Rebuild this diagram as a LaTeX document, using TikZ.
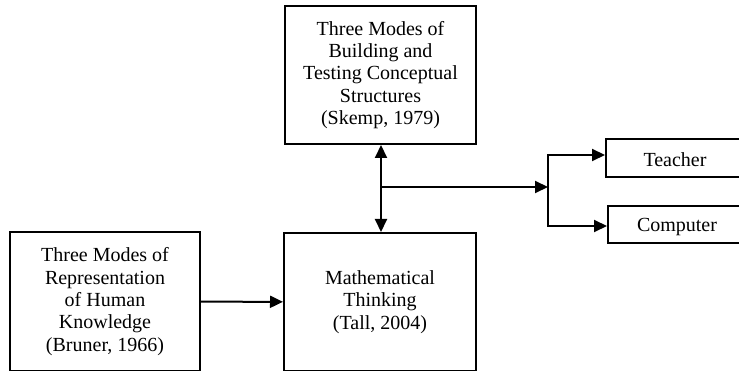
\documentclass[tikz,border=0pt]{standalone}
\usepackage{fontspec}
\setmainfont{Liberation Serif}
\usetikzlibrary{arrows.meta}
\begin{document}
\begin{tikzpicture}[x=1pt,y=-1pt,
  txt/.style={font=\fontsize{20}{22.3}\selectfont},
  box/.style={draw, line width=2pt, inner sep=0pt, anchor=north west, align=center, txt},
  arr/.style={line width=2pt, -{Triangle[length=13pt,width=12pt]}},
  darr/.style={line width=2pt, {Triangle[length=13pt,width=12pt]}-{Triangle[length=13pt,width=12pt]}}]
\useasboundingbox (0,0) rectangle (739,371);
\node[box, minimum width=191pt, minimum height=138pt] (top) at (284,5)
  {Three Modes of\\Building and\\Testing Conceptual\\Structures\\(Skemp, 1979)};
\node[box, minimum width=190pt, minimum height=139pt] (left) at (9,231)
  {Three Modes of\\Representation\\of Human\\Knowledge\\(Bruner, 1966)};
\node[box, minimum width=192pt, minimum height=138pt] (mid) at (283,232)
  {Mathematical\\Thinking\\(Tall, 2004)};
\node[box, minimum width=140pt, minimum height=38pt] (teacher) at (605,138) {};
\node[txt] (tt) at (675,160) {Teacher};
\node[box, minimum width=138pt, minimum height=37pt] (computer) at (607,205) {};
\node[txt] (ct) at (677,227) {Computer};
\coordinate (j) at (381,187);
\coordinate (b) at (548,187);
\draw[arr] (left) -- (mid);
\draw[darr] (j |- top.south) -- (j |- mid.north);
\draw[arr] (j) -- (b);
\draw[arr] (b) |- (teacher.west |- 0,155);
\draw[arr] (b) |- (computer.west |- 0,226);
\end{tikzpicture}
\end{document}
